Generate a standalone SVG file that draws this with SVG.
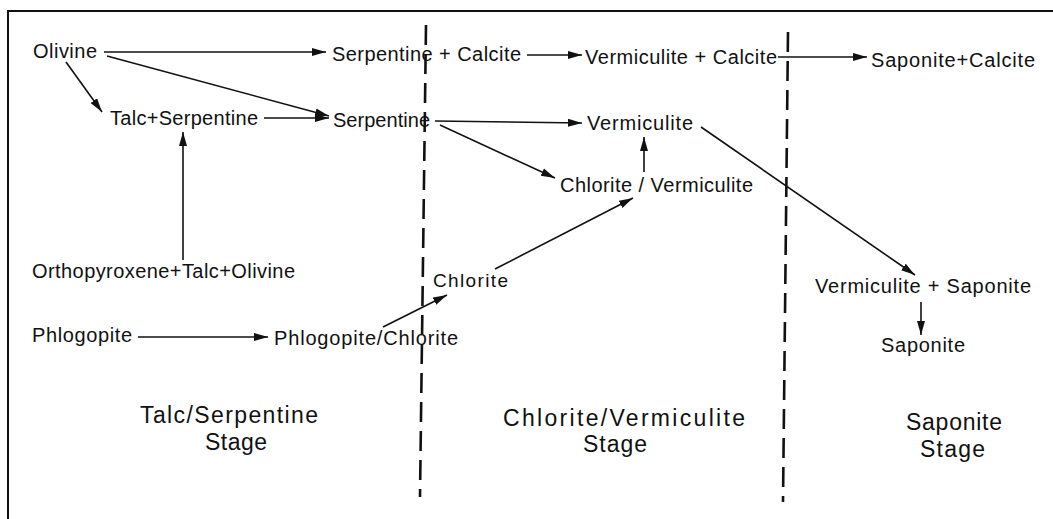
<svg xmlns="http://www.w3.org/2000/svg" width="1053" height="519" viewBox="0 0 1053 519">
<style>
text{font-family:"Liberation Sans","DejaVu Sans",sans-serif;fill:#111;}
.n{font-size:20px;}
.s{font-size:19px;}
.st{font-size:23px;}
.c{stroke:#111;stroke-width:1.6;fill:none;marker-end:url(#ah);}
.d{stroke:#111;stroke-width:2.6;fill:none;stroke-dasharray:20 9;}
.b{stroke:#111;stroke-width:2;fill:none;}
</style>
<defs>
<marker id="ah" markerUnits="userSpaceOnUse" markerWidth="15" markerHeight="10" refX="14" refY="5" orient="auto">
<path d="M0,1 L14,5 L0,9 z" fill="#111"/>
</marker>
</defs>
<rect width="1053" height="519" fill="#fff"/>
<g id="frame">
<path class="b" d="M8,519 L8,11 L1053,11"/>
</g>
<g id="dividers">
<path class="d" d="M426,25 L420,497"/>
<path class="d" d="M788,32 L783,502"/>
</g>
<g id="connectors">
<path class="c" d="M104,52 L326,52"/>
<path class="c" d="M107,56 L329,116"/>
<path class="c" d="M66,62 L102,112"/>
<path class="c" d="M264,118 L329,118"/>
<path class="c" d="M183,260 L183,132"/>
<path class="c" d="M527,55 L582,55"/>
<path class="c" d="M778,57 L867,57"/>
<path class="c" d="M435,121 L582,123"/>
<path class="c" d="M440,125 L555,178"/>
<path class="c" d="M644,172 L644,137"/>
<path class="c" d="M701,127 L915,275"/>
<path class="c" d="M921,302 L921,335"/>
<path class="c" d="M495,269 L633,198"/>
<path class="c" d="M383,327 L447,295"/>
<path class="c" d="M138,337 L268,337"/>
</g>
<g id="olivine"><text class="n" x="33" y="58" textLength="64">Olivine</text></g>
<g id="serpentine-calcite"><text class="n" x="332" y="61" textLength="189">Serpentine + Calcite</text></g>
<g id="vermiculite-calcite"><text class="n" x="585" y="64" textLength="192">Vermiculite + Calcite</text></g>
<g id="saponite-calcite"><text class="n" x="871" y="67" textLength="164">Saponite+Calcite</text></g>
<g id="talc-serpentine"><text class="n" x="110" y="125" textLength="148">Talc+Serpentine</text></g>
<g id="serpentine"><text class="n" x="333" y="127" textLength="97">Serpentine</text></g>
<g id="vermiculite"><text class="n" x="587" y="130" textLength="106">Vermiculite</text></g>
<g id="chlorite-vermiculite"><text class="n" x="560" y="192" textLength="193">Chlorite / Vermiculite</text></g>
<g id="orthopyroxene-talc-olivine"><text class="n" x="32" y="278" textLength="263">Orthopyroxene+Talc+Olivine</text></g>
<g id="chlorite"><text class="s" x="433" y="287" textLength="75">Chlorite</text></g>
<g id="phlogopite"><text class="n" x="32" y="342" textLength="100">Phlogopite</text></g>
<g id="phlogopite-chlorite"><text class="n" x="274" y="345" textLength="184">Phlogopite/Chlorite</text></g>
<g id="vermiculite-saponite"><text class="n" x="815" y="293" textLength="216">Vermiculite + Saponite</text></g>
<g id="saponite"><text class="n" x="881" y="352" textLength="84">Saponite</text></g>
<g id="stage-talc-serpentine">
<text class="st" x="140" y="423" textLength="178">Talc/Serpentine</text>
<text class="st" x="205" y="450" textLength="62">Stage</text>
</g>
<g id="stage-chlorite-vermiculite">
<text class="st" x="503" y="426" textLength="242">Chlorite/Vermiculite</text>
<text class="st" x="583" y="452" textLength="64">Stage</text>
</g>
<g id="stage-saponite">
<text class="st" x="906" y="430" textLength="96">Saponite</text>
<text class="st" x="920" y="457" textLength="65">Stage</text>
</g>
</svg>
